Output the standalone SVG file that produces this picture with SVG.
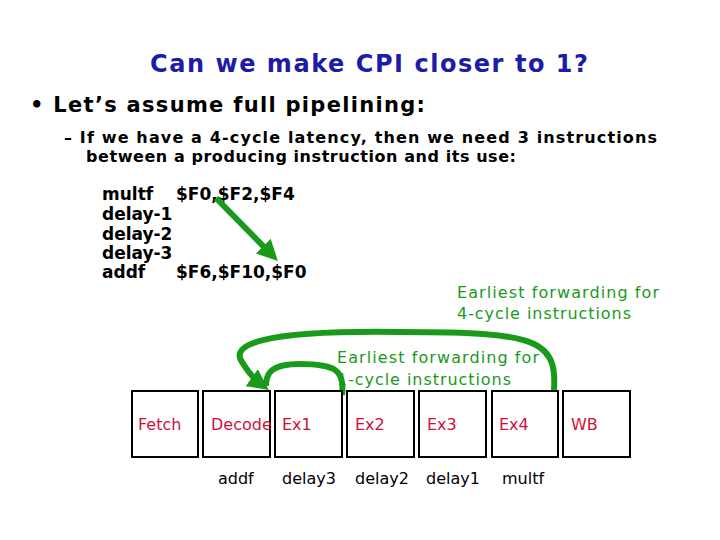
<svg xmlns="http://www.w3.org/2000/svg" width="720" height="540" viewBox="0 0 720 540">
<defs>
<style>
text{font-family:"DejaVu Sans","Liberation Sans",sans-serif}
.t{fill:#1c1ca8;font-size:24px;font-weight:bold}
.b{fill:#000;font-weight:bold}
.g{fill:#1a9a1a;font-size:16px}
.r{fill:#d0103a;font-size:16px}
.k{fill:#000;font-size:16px}
.box{fill:#fff;stroke:#000;stroke-width:2}
.arc{fill:none;stroke:#1a9a1a;stroke-width:6}
</style>
<marker id="ah" viewBox="0 0 10 10" refX="6" refY="5" markerWidth="3.5" markerHeight="3.5" orient="auto"><path d="M0,0L10,5L0,10z" fill="#1a9a1a"/></marker>
</defs>
<rect width="720" height="540" fill="#fff"/>
<text class="t" x="369" y="72" text-anchor="middle" textLength="438">Can we make CPI closer to 1?</text>
<text class="b" x="30" y="112" font-size="21" textLength="395">• Let’s assume full pipelining:</text>
<text class="b" x="64" y="143" font-size="16" textLength="593">– If we have a 4-cycle latency, then we need 3 instructions</text>
<text class="b" x="86" y="162" font-size="16" textLength="430">between a producing instruction and its use:</text>
<g font-size="17">
<text class="b" x="102" y="200">multf</text><text class="b" x="176" y="200">$F0,$F2,$F4</text>
<text class="b" x="102" y="220">delay-1</text>
<text class="b" x="102" y="240">delay-2</text>
<text class="b" x="102" y="259">delay-3</text>
<text class="b" x="102" y="278">addf</text><text class="b" x="176" y="278">$F6,$F10,$F0</text>
</g>
<g id="connectors">
<path d="M216,198 L272,255" stroke="#1a9a1a" stroke-width="6" marker-end="url(#ah)"/>
<path class="arc" d="M553,402 C560,340 545,332 400,332 C260,330 230,345 242,362 C248,372 255,380 262,385" marker-end="url(#ah)"/>
<path class="arc" d="M342,395 C345,370 335,364 300,364 C270,364 266,374 266,386"/>
</g>
<text class="g" x="457" y="298" textLength="202">Earliest forwarding for</text>
<text class="g" x="457" y="319" textLength="174">4-cycle instructions</text>
<text class="g" x="337" y="363" textLength="202">Earliest forwarding for</text>
<text class="g" x="337" y="385" textLength="174">1-cycle instructions</text>
<g id="fetch"><rect class="box" x="132" y="391" width="66" height="66"/><text class="r" x="138" y="430">Fetch</text></g>
<g id="decode"><rect class="box" x="203" y="391" width="67" height="66"/><text class="r" x="211" y="430">Decode</text></g>
<g id="ex1"><rect class="box" x="275" y="391" width="67" height="66"/><text class="r" x="282" y="430">Ex1</text></g>
<g id="ex2"><rect class="box" x="347" y="391" width="67" height="66"/><text class="r" x="355" y="430">Ex2</text></g>
<g id="ex3"><rect class="box" x="419" y="391" width="67" height="66"/><text class="r" x="427" y="430">Ex3</text></g>
<g id="ex4"><rect class="box" x="492" y="391" width="66" height="66"/><text class="r" x="499" y="430">Ex4</text></g>
<g id="wb"><rect class="box" x="563" y="391" width="67" height="66"/><text class="r" x="571" y="430">WB</text></g>
<text class="k" x="218" y="484">addf</text>
<text class="k" x="282" y="484">delay3</text>
<text class="k" x="355" y="484">delay2</text>
<text class="k" x="426" y="484">delay1</text>
<text class="k" x="502" y="484">multf</text>
</svg>
